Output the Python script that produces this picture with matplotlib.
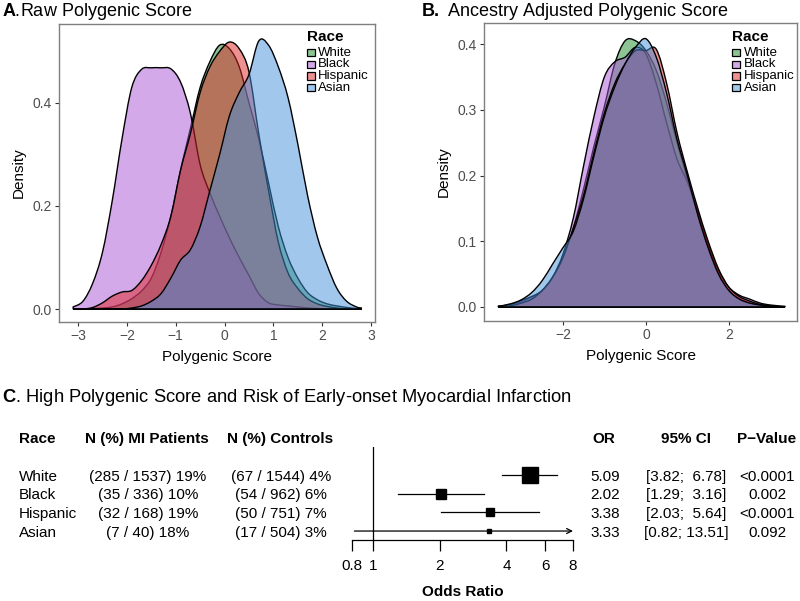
import numpy as np
import matplotlib
matplotlib.use("Agg")
import matplotlib.pyplot as plt
import matplotlib.transforms as mtrans
from matplotlib.patches import Rectangle, PathPatch
from matplotlib.path import Path
from matplotlib.colors import to_rgb

plt.rcParams['font.family'] = ['Liberation Sans', 'DejaVu Sans']
plt.rcParams['mathtext.fontset'] = 'custom'
plt.rcParams['mathtext.rm'] = 'Liberation Sans'
plt.rcParams['mathtext.bf'] = 'Liberation Sans:bold'

# ---------------- data ----------------
races = ["White", "Black", "Hispanic", "Asian"]
race_colors = ["#1a8a2a", "#a955d5", "#de2424", "#4490dc"]

# Panel A: raw polygenic score densities
xa = [-3.1, -2.9, -2.7, -2.5, -2.3, -2.1, -1.9, -1.7, -1.5, -1.3, -1.1, -0.9, -0.7,
      -0.5, -0.3, -0.1, 0.1, 0.3, 0.5, 0.7, 0.9, 1.1, 1.3, 1.5, 1.7, 1.9, 2.1, 2.3,
      2.5, 2.7, 2.8]
raw_white = [0.0, 0.0, 0.001, 0.002, 0.004, 0.01, 0.02, 0.035, 0.06, 0.11, 0.18, 0.27,
             0.35, 0.43, 0.48, 0.512, 0.505, 0.47, 0.40, 0.33, 0.245, 0.16, 0.10, 0.06,
             0.032, 0.018, 0.01, 0.006, 0.003, 0.001, 0.0]
raw_black = [0.004, 0.015, 0.05, 0.11, 0.21, 0.33, 0.43, 0.465, 0.468, 0.468, 0.466,
             0.44, 0.38, 0.28, 0.225, 0.18, 0.138, 0.10, 0.065, 0.03, 0.012, 0.008,
             0.006, 0.004, 0.002, 0.001, 0.0, 0.0, 0.0, 0.0, 0.0]
raw_hispanic = [0.0, 0.0, 0.003, 0.012, 0.025, 0.033, 0.036, 0.055, 0.085, 0.125, 0.18,
                0.27, 0.34, 0.42, 0.47, 0.50, 0.518, 0.505, 0.46, 0.34, 0.23, 0.13,
                0.07, 0.04, 0.02, 0.01, 0.005, 0.002, 0.0, 0.0, 0.0]
raw_asian = [0.0, 0.0, 0.0, 0.0, 0.0, 0.0, 0.002, 0.006, 0.015, 0.03, 0.06, 0.095,
             0.115, 0.16, 0.23, 0.30, 0.375, 0.42, 0.455, 0.52, 0.512, 0.47, 0.41,
             0.32, 0.22, 0.14, 0.085, 0.04, 0.015, 0.004, 0.002]

# Panel B: ancestry adjusted densities
xb = [-3.55, -3.25, -3.0, -2.75, -2.5, -2.25, -2.0, -1.75, -1.5, -1.25, -1.0, -0.75,
      -0.5, -0.25, 0.0, 0.25, 0.5, 0.75, 1.0, 1.25, 1.5, 1.75, 2.0, 2.25, 2.5, 2.75,
      3.0, 3.35]
adj_white = [0.001, 0.003, 0.008, 0.015, 0.025, 0.045, 0.075, 0.12, 0.18, 0.245, 0.305,
             0.37, 0.405, 0.405, 0.39, 0.36, 0.31, 0.25, 0.195, 0.14, 0.09, 0.05, 0.025,
             0.013, 0.006, 0.003, 0.001, 0.0]
adj_black = [0.001, 0.004, 0.01, 0.016, 0.025, 0.045, 0.08, 0.135, 0.215, 0.29, 0.35,
             0.373, 0.38, 0.395, 0.385, 0.34, 0.28, 0.225, 0.19, 0.145, 0.095, 0.055,
             0.03, 0.018, 0.012, 0.006, 0.003, 0.001]
adj_hispanic = [0.0, 0.002, 0.006, 0.012, 0.025, 0.045, 0.075, 0.12, 0.17, 0.235, 0.295,
                0.34, 0.37, 0.39, 0.39, 0.392, 0.34, 0.265, 0.205, 0.15, 0.10, 0.058,
                0.03, 0.016, 0.009, 0.004, 0.002, 0.0]
adj_asian = [0.001, 0.005, 0.011, 0.022, 0.04, 0.065, 0.09, 0.115, 0.165, 0.23, 0.29,
             0.335, 0.37, 0.395, 0.408, 0.38, 0.325, 0.255, 0.2, 0.14, 0.09, 0.05,
             0.025, 0.012, 0.006, 0.003, 0.001, 0.0]

# Panel C: forest plot
mi_text = ["(285 / 1537) 19%", "(35 / 336) 10%", "(32 / 168) 19%", "(7 / 40) 18%"]
ctrl_text = ["(67 / 1544) 4%", "(54 / 962) 6%", "(50 / 751) 7%", "(17 / 504) 3%"]
odds_ratio = [5.09, 2.02, 3.38, 3.33]
ci_low = [3.82, 1.29, 2.03, 0.82]
ci_high = [6.78, 3.16, 5.64, 13.51]
ci_text = ["[3.82;  6.78]", "[1.29;  3.16]", "[2.03;  5.64]", "[0.82; 13.51]"]
p_text = ["<0.0001", "0.002", "<0.0001", "0.092"]
or_ticks = [0.8, 1, 2, 4, 6, 8]
or_tick_labels = ["0.8", "1", "2", "4", "6", "8"]

# ---------------- figure ----------------
W, H = 800, 601
fig = plt.figure(figsize=(8, 6.01), dpi=100)


def fx(px):
    return px / W


def fy(py):
    return 1 - py / H


def style_density_axes(ax):
    for s in ax.spines.values():
        s.set_color("#7f7f7f")
        s.set_linewidth(1.0)
    ax.tick_params(axis="both", length=3, width=0.8, color="#333333",
                   labelsize=10, labelcolor="#4d4d4d", pad=2)
    ax.set_xlabel("Polygenic Score", fontsize=11, labelpad=5)
    ax.set_ylabel("Density", fontsize=11, labelpad=5)


def smooth_path(xs, ys):
    """Closed polygon whose upper edge is a smooth (Catmull-Rom/Bezier) curve
    drawn through the read points."""
    pts = np.column_stack([xs, ys])
    n = len(pts)
    verts = [(xs[0], 0.0), tuple(pts[0])]
    codes = [Path.MOVETO, Path.LINETO]
    for i in range(n - 1):
        p0 = pts[i - 1] if i > 0 else pts[i]
        p1 = pts[i]
        p2 = pts[i + 1]
        p3 = pts[i + 2] if i + 2 < n else pts[i + 1]
        c1 = p1 + (p2 - p0) / 6.0
        c2 = p2 - (p3 - p1) / 6.0
        c1[1] = max(c1[1], 0.0)
        c2[1] = max(c2[1], 0.0)
        verts += [tuple(c1), tuple(c2), tuple(p2)]
        codes += [Path.CURVE4] * 3
    verts += [(xs[-1], 0.0), (xs[0], 0.0)]
    codes += [Path.LINETO, Path.CLOSEPOLY]
    return Path(verts, codes)


def draw_densities(ax, x, series):
    for vals, col in zip(series, race_colors):
        r, g, b = to_rgb(col)
        patch = PathPatch(smooth_path(x, vals), facecolor=(r, g, b, 0.5),
                          edgecolor="black", linewidth=1.0)
        ax.add_patch(patch)


def draw_legend(x_title, x_key, x_text):
    fig.text(fx(x_title), fy(37), "Race", fontsize=11, fontweight="bold",
             ha="left", va="center")
    ys = [52.7, 64.3, 76.0, 87.7]
    for lab, col, yy in zip(races, race_colors, ys):
        r, g, b = to_rgb(col)
        fig.patches.append(Rectangle((fx(x_key), fy(yy + 3.7)), 7.5 / W, 7.5 / H,
                                     transform=fig.transFigure, facecolor=(r, g, b, 0.5),
                                     edgecolor="black", linewidth=0.9))
        fig.text(fx(x_text), fy(yy), lab, fontsize=9.5, ha="left", va="center")


# Panel A
axA = fig.add_axes([fx(59), fy(322), (375 - 59) / W, (322 - 24) / H])
draw_densities(axA, xa, [raw_white, raw_black, raw_hispanic, raw_asian])
axA.set_xlim(-3.39, 3.08)
axA.set_ylim(-0.0252, 0.553)
axA.set_xticks([-3, -2, -1, 0, 1, 2, 3])
axA.set_xticklabels(["\u22123", "\u22122", "\u22121", "0", "1", "2", "3"])
axA.set_yticks([0.0, 0.2, 0.4])
axA.set_yticklabels(["0.0", "0.2", "0.4"])
style_density_axes(axA)
draw_legend(307, 307, 318)
fig.text(fx(2), fy(12), r"$\mathbf{A}$.Raw Polygenic Score", fontsize=13,
         ha="left", va="center")

# Panel B
axB = fig.add_axes([fx(484), fy(321), (797 - 484) / W, (321 - 23) / H])
draw_densities(axB, xb, [adj_white, adj_black, adj_hispanic, adj_asian])
axB.set_xlim(-3.9, 3.64)
axB.set_ylim(-0.0213, 0.432)
axB.set_xticks([-2, 0, 2])
axB.set_xticklabels(["\u22122", "0", "2"])
axB.set_yticks([0.0, 0.1, 0.2, 0.3, 0.4])
axB.set_yticklabels(["0.0", "0.1", "0.2", "0.3", "0.4"])
style_density_axes(axB)
draw_legend(731.7, 732.3, 744.3)
fig.text(fx(421), fy(12), r"$\mathbf{B.}$ Ancestry Adjusted Polygenic Score",
         fontsize=13, ha="left", va="center")

# Panel C
fig.text(fx(2), fy(398), r"$\mathbf{C}$. High Polygenic Score and Risk of Early-onset Myocardial Infarction",
         fontsize=13.2, ha="left", va="center")

axF = fig.add_axes([fx(352), fy(540), (573 - 352) / W, (540 - 447) / H])
axF.set_xscale("log")
axF.set_xlim(0.8, 8)
rows = list(range(len(races)))
axF.set_ylim(3.48, -1.5)
for side in ["top", "right", "left"]:
    axF.spines[side].set_visible(False)
axF.spines["bottom"].set_linewidth(0.9)
axF.set_yticks([])
axF.set_xticks(or_ticks)
axF.set_xticklabels(or_tick_labels)
axF.xaxis.set_minor_locator(matplotlib.ticker.NullLocator())
axF.tick_params(axis="x", length=8, width=0.9, labelsize=11, pad=6)
axF.set_xlabel("Odds Ratio", fontsize=11, fontweight="bold", labelpad=8)
axF.axvline(1, color="black", linewidth=0.9)

# box sizes from inverse-variance weights
se = [(np.log(h) - np.log(l)) / (2 * 1.96) for l, h in zip(ci_low, ci_high)]
wts = [1 / s ** 2 for s in se]
wmax = max(wts)
xmin, xmax = axF.get_xlim()
for i, (o, l, h, w) in zip(rows, zip(odds_ratio, ci_low, ci_high, wts)):
    if h > xmax:
        axF.annotate("", xy=(xmax, i), xytext=(max(l, xmin), i),
                     arrowprops=dict(arrowstyle="->", lw=0.9, color="black",
                                     shrinkA=0, shrinkB=0, mutation_scale=9),
                     annotation_clip=False)
    else:
        axF.plot([l, h], [i, i], color="black", linewidth=0.9, clip_on=False)
    side = 15.3 * np.sqrt(w / wmax) * 0.72
    axF.plot([o], [i], marker="s", markersize=side, color="black", linestyle="none",
             clip_on=False)

tr = mtrans.blended_transform_factory(fig.transFigure, axF.transData)
hdr_y = -2.0
tkw = dict(fontsize=11, transform=tr, va="center_baseline")
fig.text(fx(19), hdr_y, "Race", ha="left", fontweight="bold", **tkw)
fig.text(fx(85), hdr_y, "N (%) MI Patients", ha="left", fontweight="bold", **tkw)
fig.text(fx(227), hdr_y, "N (%) Controls", ha="left", fontweight="bold", **tkw)
fig.text(fx(604), hdr_y, "OR", ha="center", fontweight="bold", **tkw)
fig.text(fx(686), hdr_y, "95% CI", ha="center", fontweight="bold", **tkw)
fig.text(fx(767), hdr_y, "P\u2212Value", ha="center", fontweight="bold", **tkw)
for i in rows:
    fig.text(fx(19), i, races[i], ha="left", **tkw)
    fig.text(fx(148), i, mi_text[i], ha="center", **tkw)
    fig.text(fx(281), i, ctrl_text[i], ha="center", **tkw)
    fig.text(fx(605), i, f"{odds_ratio[i]:.2f}", ha="center", **tkw)
    fig.text(fx(686), i, ci_text[i], ha="center", **tkw)
    fig.text(fx(767), i, p_text[i], ha="center", **tkw)

fig.savefig("out.png", dpi=100)
